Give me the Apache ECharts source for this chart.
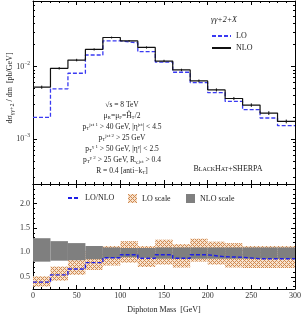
<!DOCTYPE html>
<html><head><meta charset="utf-8">
<script src="https://cdn.jsdelivr.net/npm/echarts@6/dist/echarts.min.js"></script>
<style>html,body{margin:0;padding:0;background:#fff}#c{width:304px;height:321px}</style>
</head><body><div id="c"></div>
<script>
// ---- data ----
const binEdges = [0,20,40,60,80,100,120,140,160,180,200,220,240,260,280,300];
const nloXsec = [5.19e-3,9.45e-3,1.227e-2,1.72e-2,2.51e-2,2.25e-2,1.83e-2,1.19e-2,8.96e-3,6.33e-3,4.76e-3,3.62e-3,2.94e-3,2.28e-3,1.75e-3];
const loXsec  = [1.99e-3,4.92e-3,8.07e-3,1.44e-2,2.25e-2,2.12e-2,1.60e-2,1.15e-2,8.33e-3,6.0e-3,4.37e-3,3.30e-3,2.54e-3,1.95e-3,1.53e-3];
const nloRelErr = [0.05,0.04,0.04,0.035,0.03,0.03,0.035,0.04,0.04,0.045,0.05,0.05,0.055,0.06,0.06];
const ratioLoNlo = [0.39,0.54,0.66,0.79,0.89,0.95,0.88,0.95,0.88,0.95,0.91,0.90,0.87,0.87,0.87];
const loScaleLow  = [0.30,0.42,0.54,0.64,0.73,0.79,0.70,0.75,0.69,0.81,0.75,0.69,0.68,0.68,0.68];
const loScaleHigh = [0.51,0.71,0.86,1.03,1.13,1.23,1.13,1.26,1.17,1.28,1.22,1.19,1.13,1.13,1.13];
const nloScaleLow  = [0.81,0.83,0.84,0.86,0.88,0.90,0.89,0.87,0.87,0.87,0.87,0.87,0.87,0.87,0.87];
const nloScaleHigh = [1.29,1.23,1.19,1.13,1.10,1.09,1.09,1.10,1.10,1.10,1.10,1.10,1.10,1.10,1.10];
const logMajorTicks = [1e-3, 1e-2];
const logMinorTicks = [3e-4,4e-4,5e-4,6e-4,7e-4,8e-4,9e-4,2e-3,3e-3,4e-3,5e-3,6e-3,7e-3,8e-3,9e-3,2e-2,3e-2,4e-2,5e-2,6e-2,7e-2,8e-2];
const ratioMajorTicks = [0.5,1.0,1.5,2.0];
const ratioMinorTicks = [0.3,0.4,0.6,0.7,0.8,0.9,1.1,1.2,1.3,1.4,1.6,1.7,1.8,1.9,2.1,2.2,2.3];

// ---- helpers ----
const FONT = "'Liberation Serif','DejaVu Serif',serif";
const stepData = vals => binEdges.map((e,i) => [e, vals[Math.min(i, vals.length-1)]]);
const bandData = (lo, hi) => lo.map((v,i) => [binEdges[i], binEdges[i+1], v, hi[i]]);
const errData = (vals, rel) => vals.map((v,i) => [(binEdges[i]+binEdges[i+1])/2, v*(1-rel[i]), v*(1+rel[i])]);

const pc = document.createElement('canvas'); pc.width = 4; pc.height = 4;
const g = pc.getContext('2d');
g.fillStyle = '#f7e2cd'; g.fillRect(0,0,4,4);
g.fillStyle = '#d08a52';
[[0,0],[1,1],[2,2],[3,3],[1,3],[3,1]].forEach(p => g.fillRect(p[0],p[1],1,1));
const hatch = {image: pc, repeat: 'repeat'};
const GRAY = '#7f7f7f';
const TXT = {fontFamily: FONT, fontSize: 8, color: '#222'};

function xAx(grid, pos, labels) {
  return {gridIndex: grid, type: 'value', min: 0, max: 300, interval: 50, position: pos,
    axisLine: {show: true, lineStyle: {color: '#000', width: 1}},
    axisTick: {show: true, inside: true, length: 4, lineStyle: {color: '#000'}},
    minorTick: {show: true, splitNumber: 5, length: 2, lineStyle: {color: '#000'}},
    axisLabel: {show: labels, color: '#333', fontFamily: FONT, fontSize: 8, margin: 3},
    splitLine: {show: false}, minorSplitLine: {show: false},
    name: labels ? 'Diphoton Mass  [GeV]' : '', nameLocation: 'middle', nameGap: 17,
    nameTextStyle: {fontFamily: FONT, fontSize: 8, color: '#222'}};
}
function yLog(pos, ticks, len, labels, line) {
  return {gridIndex: 0, type: 'log', min: 2.4e-4, max: 0.08, position: pos,
    axisLine: {show: line, lineStyle: {color: '#000', width: 1}},
    axisTick: {show: true, inside: true, length: len, customValues: ticks, lineStyle: {color: '#000'}},
    axisLabel: {show: labels, customValues: ticks, margin: 3, color: '#333', fontFamily: FONT, fontSize: 8,
      formatter: v => '10{s|−' + Math.round(-Math.log10(v)) + '}',
      rich: {s: {fontSize: 5.5, fontFamily: FONT, color: '#333', padding: [0,0,6,0]}}},
    splitLine: {show: false}};
}
function yRat(pos, ticks, len, labels, line) {
  return {gridIndex: 1, type: 'value', min: 0.25, max: 2.4, position: pos,
    axisLine: {show: line, lineStyle: {color: '#000', width: 1}},
    axisTick: {show: true, inside: true, length: len, customValues: ticks, lineStyle: {color: '#000'}},
    axisLabel: {show: labels, customValues: ticks, margin: 3, color: '#333', fontFamily: FONT, fontSize: 8,
      formatter: v => v.toFixed(1)},
    splitLine: {show: false}};
}
function bandSeries(name, lo, hi, fill) {
  return {name: name, type: 'custom', xAxisIndex: 2, yAxisIndex: 4, clip: true,
    itemStyle: {color: fill},
    data: bandData(lo, hi),
    renderItem: (params, api) => {
      const p0 = api.coord([api.value(0), api.value(3)]);
      const p1 = api.coord([api.value(1), api.value(2)]);
      return {type: 'rect', shape: {x: p0[0], y: p0[1], width: p1[0]-p0[0], height: p1[1]-p0[1]},
        style: {fill: fill}};
    }};
}

const chart = echarts.init(document.getElementById('c'), null, {renderer: 'canvas'});
chart.setOption({
  animation: false,
  grid: [
    {left: 33, right: 9, top: 1, height: 183},
    {left: 33, right: 9, top: 184, height: 105}
  ],
  xAxis: [xAx(0,'bottom',false), xAx(0,'top',false), xAx(1,'bottom',true), xAx(1,'top',false)],
  yAxis: [
    yLog('left', logMajorTicks, 4, true, true), yLog('left', logMinorTicks, 2, false, false),
    yLog('right', logMajorTicks, 4, false, true), yLog('right', logMinorTicks, 2, false, false),
    yRat('left', ratioMajorTicks, 4, true, true), yRat('left', ratioMinorTicks, 2, false, false),
    yRat('right', ratioMajorTicks, 4, false, true), yRat('right', ratioMinorTicks, 2, false, false)
  ],
  legend: [
    {data: ['LO','NLO'], orient: 'vertical', left: 206, top: 27, itemWidth: 19, itemHeight: 6, itemGap: 4,
      itemStyle: {opacity: 0}, textStyle: TXT},
    {data: ['LO/NLO'], left: 62, top: 189, itemWidth: 12, itemHeight: 6,
      itemStyle: {opacity: 0}, textStyle: TXT},
    {data: [{name: 'LO scale', icon: 'rect', itemStyle: {color: hatch}}], left: 123, top: 189, itemWidth: 9, itemHeight: 9,
      textStyle: TXT},
    {data: [{name: 'NLO scale', icon: 'rect', itemStyle: {color: GRAY}}], left: 181, top: 189, itemWidth: 9, itemHeight: 9,
      textStyle: TXT}
  ],
  series: [
    {name: 'LO', type: 'line', xAxisIndex: 0, yAxisIndex: 0, step: 'end', symbol: 'none',
      data: stepData(loXsec), lineStyle: {color: '#3a3af2', width: 1.3, type: [4,2]}, itemStyle: {color: '#3a3af2'}},
    {name: 'NLO', type: 'line', xAxisIndex: 0, yAxisIndex: 0, step: 'end', symbol: 'none',
      data: stepData(nloXsec), lineStyle: {color: '#111', width: 1.2}, itemStyle: {color: '#111'}},
    {name: 'NLO err', type: 'custom', xAxisIndex: 0, yAxisIndex: 0, data: errData(nloXsec, nloRelErr),
      renderItem: (params, api) => {
        const a = api.coord([api.value(0), api.value(1)]);
        const b = api.coord([api.value(0), api.value(2)]);
        return {type: 'line', shape: {x1: a[0], y1: a[1], x2: b[0], y2: b[1]}, style: {stroke: '#111', lineWidth: 1}};
      }},
    bandSeries('LO scale', loScaleLow, loScaleHigh, hatch),
    bandSeries('NLO scale', nloScaleLow, nloScaleHigh, GRAY),
    {name: 'LO/NLO', type: 'line', xAxisIndex: 2, yAxisIndex: 4, step: 'end', symbol: 'none',
      data: stepData(ratioLoNlo), lineStyle: {color: '#1e1ee6', width: 1.4, type: [4,2]}, itemStyle: {color: '#1e1ee6'}}
  ],
  graphic: [
    {type: 'text', x: 10, y: 88, rotation: Math.PI/2,
      style: {text: 'dσ{sub|γγ+2} / dm  [pb/GeV]', align: 'center', verticalAlign: 'middle',
        font: "8px " + FONT, fill: '#222',
        rich: {sub: {fontSize: 6, fontFamily: FONT, fill: '#222', color: '#222', verticalAlign: 'bottom', padding: [4,0,0,0]}}}},
    {type: 'text', x: 224, y: 20,
      style: {text: 'γγ+2+X', align: 'center', verticalAlign: 'middle', font: "italic 8px " + FONT, fill: '#222'}},
    {type: 'text', x: 122, y: 138,
      style: {
        text: '√s = 8 TeV\nμ{sb|R}=μ{sb|F}=Ĥ{sb|T}/2\np{sb|T}{sp|jet 1} > 40 GeV, |η{sp|jet}| < 4.5\np{sb|T}{sp|jet 2} > 25 GeV\np{sb|T}{sp|γ 1} > 50 GeV, |η{sp|γ}| < 2.5\np{sb|T}{sp|γ 2} > 25 GeV, R{sb|γ,jet} > 0.4\nR = 0.4 [anti−k{sb|T}]',
        align: 'center', verticalAlign: 'middle', font: "7.5px " + FONT, fill: '#222', lineHeight: 11,
        rich: {
          sb: {fontSize: 5, fontFamily: FONT, fill: '#222', color: '#222', lineHeight: 11, padding: [4,0,0,0]},
          sp: {fontSize: 5, fontFamily: FONT, fill: '#222', color: '#222', lineHeight: 11, padding: [0,0,5,0]}
        }}},
    {type: 'text', x: 228, y: 169,
      style: {text: 'B{sc|LACK}H{sc|AT}+SHERPA', align: 'center', verticalAlign: 'middle', font: "8px " + FONT, fill: '#222',
        rich: {sc: {fontSize: 6, fontFamily: FONT, fill: '#222', color: '#222'}}}}
  ]
});
</script></body></html>
